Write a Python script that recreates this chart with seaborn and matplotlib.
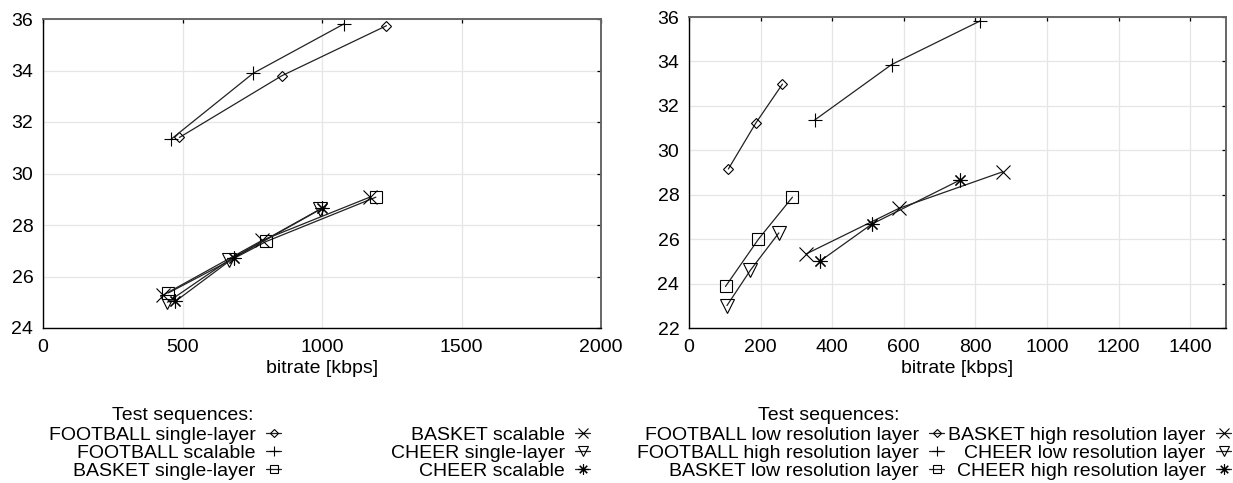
import numpy as np
import pandas as pd
import matplotlib
matplotlib.use('Agg')
import matplotlib.pyplot as plt
import seaborn as sns

# ---------------------------------------------------------------------------
# data
# ---------------------------------------------------------------------------
left_names = ['FOOTBALL single-layer', 'FOOTBALL scalable', 'BASKET single-layer',
              'BASKET scalable', 'CHEER single-layer', 'CHEER scalable']
left_x = [
    [489, 855, 1231],
    [459, 753, 1079],
    [449, 800, 1193],
    [431, 785, 1171],
    [446, 668, 994],
    [474, 683, 1001],
]
left_y = [
    [31.40, 33.79, 35.74],
    [31.33, 33.89, 35.81],
    [25.36, 27.36, 29.08],
    [25.28, 27.40, 29.08],
    [25.00, 26.65, 28.62],
    [25.03, 26.72, 28.65],
]

right_names = ['FOOTBALL low resolution layer', 'FOOTBALL high resolution layer',
               'BASKET low resolution layer', 'BASKET high resolution layer',
               'CHEER low resolution layer', 'CHEER high resolution layer']
right_x = [
    [110, 186, 261],
    [351, 566, 813],
    [102, 194, 289],
    [328, 587, 876],
    [106, 171, 251],
    [366, 511, 757],
]
right_y = [
    [29.16, 31.21, 32.98],
    [31.36, 33.86, 35.82],
    [23.87, 26.00, 27.89],
    [25.34, 27.39, 29.03],
    [23.01, 24.59, 26.28],
    [25.01, 26.68, 28.66],
]

left_xticks = [0, 500, 1000, 1500, 2000]
left_yticks = [24, 26, 28, 30, 32, 34, 36]
right_xticks = [0, 200, 400, 600, 800, 1000, 1200, 1400]
right_yticks = [22, 24, 26, 28, 30, 32, 34, 36]

# marker styles, same order as the series
markers = ['D', '+', 's', 'x', 'v', (8, 2, 0)]
msizes = [5.5, 10, 8.5, 9.5, 10, 10]

# ---------------------------------------------------------------------------
sns.set_style('white')
plt.rcParams['font.family'] = ['Liberation Sans', 'DejaVu Sans']
plt.rcParams['text.color'] = 'black'
plt.rcParams['axes.labelcolor'] = 'black'
plt.rcParams['xtick.color'] = 'black'
plt.rcParams['ytick.color'] = 'black'
FS = 14

fig = plt.figure(figsize=(12.33, 4.83), dpi=100)
W, H = 1233, 483
ax1 = fig.add_axes([43 / W, 1 - 328 / H, 558 / W, 309 / H])
ax2 = fig.add_axes([689 / W, 1 - 328 / H, 537 / W, 311 / H])


def draw_panel(ax, names, xs, ys, xticks, yticks, xlim, ylim):
    for i, name in enumerate(names):
        d = pd.DataFrame({'bitrate': xs[i], 'psnr': ys[i]})
        sns.lineplot(data=d, x='bitrate', y='psnr', ax=ax, sort=False,
                     color='#222222', lw=0.9, marker=markers[i], ms=msizes[i],
                     markerfacecolor='none', markeredgecolor='black',
                     markeredgewidth=0.8, legend=False)
    ax.set_xlim(*xlim)
    ax.set_ylim(*ylim)
    ax.set_xticks(xticks)
    ax.set_yticks(yticks)
    ax.grid(True, color='#e6e6e6', lw=0.9)
    ax.set_axisbelow(True)
    ax.tick_params(direction='in', top=True, right=True, length=3,
                   width=0.9, color='black', labelsize=FS, labelcolor='black')
    ax.tick_params(axis='x', pad=8)
    ax.tick_params(axis='y', pad=7)
    ax.set_xlabel('bitrate [kbps]', fontsize=FS, labelpad=3)
    ax.set_ylabel('')
    for s in ['left', 'bottom']:
        ax.spines[s].set_color('black')
        ax.spines[s].set_linewidth(1.0)
    for s in ['top', 'right']:
        ax.spines[s].set_color('#666666')
        ax.spines[s].set_linewidth(1.4)
    return ax.get_lines()


h1 = draw_panel(ax1, left_names, left_x, left_y, left_xticks, left_yticks,
                (0, 2000), (24, 36))
h2 = draw_panel(ax2, right_names, right_x, right_y, right_xticks, right_yticks,
                (0, 1500), (22, 36))


# legends: two right-aligned columns per panel, title as separate text
def add_column(handles, labels, x_right):
    fig.legend(handles, labels, loc='center right',
               bbox_to_anchor=(x_right / W, 1 - 453 / H),
               frameon=False, markerfirst=False, fontsize=FS,
               borderpad=0, borderaxespad=0, labelspacing=0.02,
               handlelength=0.75, handletextpad=0.55, markerscale=0.75)


add_column(h1[:3], left_names[:3], 281)
add_column(h1[3:], left_names[3:], 590)
add_column(h2[:3], right_names[:3], 944)
add_column(h2[3:], right_names[3:], 1231)

fig.text(253 / W, 1 - 415 / H, 'Test sequences:', ha='right', va='center', fontsize=FS)
fig.text(900 / W, 1 - 415 / H, 'Test sequences:', ha='right', va='center', fontsize=FS)

fig.savefig('out.png', dpi=100)
